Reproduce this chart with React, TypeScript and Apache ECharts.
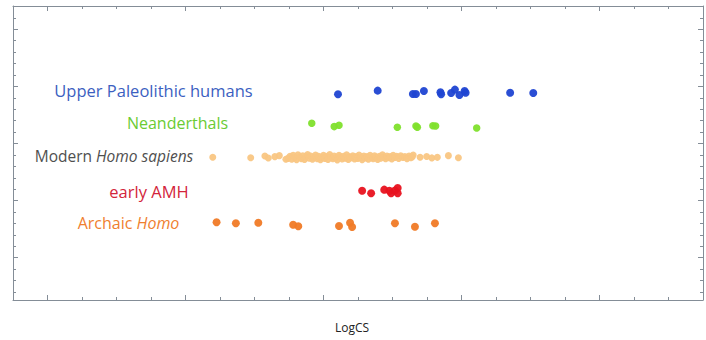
import React, { useEffect, useRef } from "react";
import * as echarts from "echarts";

// Category names (bottom to top)
const categories = [
  "Archaic Homo",
  "early AMH",
  "Modern Homo sapiens",
  "Neanderthals",
  "Upper Paleolithic humans",
];

// Axis ranges / ticks (arbitrary LogCS units, no tick labels in the source)
const xMin = 0;
const xMax = 20;
const xMajorTicks = [1, 5, 9, 13, 17];
const yMin = 0;
const yMax = 25.74;
const yMinorTicks = [
  0.7, 1.7, 2.7, 3.7, 4.7, 5.7, 6.7, 7.7, 8.7, 9.7, 10.7, 11.7, 12.7, 13.7,
  14.7, 15.7, 16.7, 17.7, 18.7, 19.7, 20.7, 21.7, 22.7, 23.7, 24.7,
];
const yMajorTicks = [3.7, 8.7, 13.7, 18.7, 23.7];

// Series values [LogCS, jittered row]
const upperPaleolithic = [
  [9.42, 18.01], [10.57, 18.33], [11.59, 18.04], [11.68, 18.04], [11.91, 18.3],
  [12.39, 18.19], [12.41, 18.01], [12.7, 18.13], [12.81, 18.42], [12.94, 17.95],
  [13.09, 18.3], [13.12, 18.15], [14.41, 18.15], [15.08, 18.13],
];

const neanderthals = [
  [8.66, 15.47], [9.31, 15.18], [9.45, 15.3], [11.14, 15.12], [11.68, 15.24],
  [11.72, 15.12], [12.17, 15.26], [12.25, 15.24], [13.44, 15.06],
];

const modernHomoSapiens = [
  [5.79, 12.5], [6.89, 12.46], [7.3, 12.61], [7.4, 12.43], [7.59, 12.55], [7.72, 12.64], [7.91, 12.32],
  [7.97, 12.4], [8.03, 12.58], [8.08, 12.33], [8.12, 12.66], [8.17, 12.47], [8.22, 12.29], [8.26, 12.71],
  [8.31, 12.52], [8.36, 12.38], [8.4, 12.62], [8.45, 12.3], [8.5, 12.55], [8.54, 12.74], [8.59, 12.42],
  [8.63, 12.6], [8.68, 12.33], [8.73, 12.5], [8.77, 12.69], [8.82, 12.37], [8.86, 12.58], [8.91, 12.28],
  [8.95, 12.47], [9.0, 12.66], [9.04, 12.4], [9.09, 12.56], [9.13, 12.31], [9.18, 12.73], [9.22, 12.49],
  [9.27, 12.36], [9.31, 12.61], [9.36, 12.44], [9.4, 12.27], [9.45, 12.68], [9.49, 12.52], [9.54, 12.35],
  [9.58, 12.59], [9.63, 12.42], [9.67, 12.71], [9.72, 12.3], [9.76, 12.54], [9.81, 12.45], [9.85, 12.63],
  [9.9, 12.34], [9.94, 12.57], [9.99, 12.39], [10.03, 12.7], [10.08, 12.48], [10.12, 12.29], [10.17, 12.6],
  [10.21, 12.43], [10.26, 12.55], [10.3, 12.33], [10.35, 12.67], [10.39, 12.46], [10.44, 12.38], [10.48, 12.62],
  [10.53, 12.5], [10.57, 12.31], [10.62, 12.58], [10.66, 12.41], [10.71, 12.72], [10.75, 12.52], [10.8, 12.36],
  [10.84, 12.6], [10.89, 12.45], [10.93, 12.55], [10.98, 12.34], [11.02, 12.66], [11.07, 12.48], [11.12, 12.58],
  [11.18, 12.4], [11.24, 12.62], [11.3, 12.47], [11.36, 12.55], [11.42, 12.38], [11.48, 12.6], [11.53, 12.45],
  [11.57, 12.53], [11.6, 12.7], [11.8, 12.5], [11.99, 12.56], [12.14, 12.44], [12.3, 12.49],
  [12.62, 12.64], [12.91, 12.46],
];

const earlyAMH = [
  [10.12, 9.57], [10.38, 9.34], [10.76, 9.66], [10.91, 9.57], [10.96, 9.34],
  [11.07, 9.59], [11.15, 9.81], [11.15, 9.34],
];

const archaicHomo = [
  [5.9, 6.8], [6.46, 6.72], [7.11, 6.77], [8.12, 6.59], [8.27, 6.45], [9.45, 6.48],
  [9.77, 6.77], [9.83, 6.39], [11.07, 6.72], [11.65, 6.42], [12.23, 6.72],
];

const seriesData = [archaicHomo, earlyAMH, modernHomoSapiens, neanderthals, upperPaleolithic];
const dotColors = ["#f07a26", "#e8121f", "#f9c683", "#80e02c", "#1f44d2"];
const dotSizes = [8, 8, 7, 7.5, 8];
const labelColors = ["#ef7f30", "#d3253b", "#4f4f4f", "#6bcb33", "#3c5fc1"];
const labelSizes = [16, 16.5, 15.5, 16, 16.5];
const labelPos = [
  [128.5, 223],
  [149, 191],
  [114, 156],
  [177.5, 123],
  [153.5, 90],
];

const axisColor = "#848d97";
const font = "'Open Sans', 'DejaVu Sans', sans-serif";

function labelRich(name: string) {
  if (name === "Modern Homo sapiens") return "{n|Modern }{i|Homo sapiens}";
  if (name === "Archaic Homo") return "{n|Archaic }{i|Homo}";
  return "{n|" + name + "}";
}

function makeOption() {
  const baseX = {
    type: "value",
    min: xMin,
    max: xMax,
    axisLabel: { show: false },
    splitLine: { show: false },
  };
  const baseY = {
    type: "value",
    min: yMin,
    max: yMax,
    axisLabel: { show: false },
    splitLine: { show: false },
  };
  const line = { show: true, onZero: false, lineStyle: { color: axisColor, width: 1 } };
  const noLine = { show: false, onZero: false };
  const tick = (length: number, extra: any) => ({
    show: true,
    inside: true,
    length,
    lineStyle: { color: axisColor, width: 1 },
    ...extra,
  });

  return {
    animation: false,
    backgroundColor: "#ffffff",
    grid: { left: 13, right: 3, top: 6, bottom: 40, containLabel: false },
    xAxis: [
      { ...baseX, position: "bottom", interval: 1, axisLine: line, axisTick: tick(3, { interval: 0 }) },
      { ...baseX, position: "bottom", axisLine: noLine, axisTick: tick(5, { customValues: xMajorTicks }) },
      { ...baseX, position: "top", interval: 1, axisLine: line, axisTick: tick(3, { interval: 0 }) },
      { ...baseX, position: "top", axisLine: noLine, axisTick: tick(5, { customValues: xMajorTicks }) },
    ],
    yAxis: [
      { ...baseY, position: "left", axisLine: line, axisTick: tick(3, { customValues: yMinorTicks }) },
      { ...baseY, position: "left", axisLine: noLine, axisTick: tick(5, { customValues: yMajorTicks }) },
      { ...baseY, position: "right", axisLine: line, axisTick: tick(3, { customValues: yMinorTicks }) },
      { ...baseY, position: "right", axisLine: noLine, axisTick: tick(5, { customValues: yMajorTicks }) },
    ],
    series: seriesData.map((d, i) => ({
      name: categories[i],
      type: "scatter",
      xAxisIndex: 0,
      yAxisIndex: 0,
      data: d,
      symbol: "circle",
      symbolSize: dotSizes[i],
      itemStyle: { color: dotColors[i], opacity: 0.95 },
      z: 2 + (i === 2 ? 0 : 1),
    })),
    graphic: [
      ...categories.map((name, i) => ({
        type: "text",
        x: labelPos[i][0],
        y: labelPos[i][1],
        silent: true,
        style: {
          text: labelRich(name),
          align: "center",
          verticalAlign: "middle",
          rich: {
            n: { fontFamily: font, fontSize: labelSizes[i], fill: labelColors[i], color: labelColors[i] },
            i: {
              fontFamily: font,
              fontSize: labelSizes[i],
              fontStyle: "italic",
              fill: labelColors[i],
              color: labelColors[i],
            },
          },
        },
      })),
      {
        type: "text",
        x: 352,
        y: 327,
        silent: true,
        style: {
          text: "LogCS",
          align: "center",
          verticalAlign: "middle",
          fontFamily: font,
          fontSize: 12,
          fill: "#222222",
        },
      },
    ],
  };
}

export default function App() {
  const ref = useRef<HTMLDivElement>(null);
  useEffect(() => {
    if (!ref.current) return;
    const chart = echarts.init(ref.current, null, { renderer: "svg" });
    chart.setOption(makeOption() as any);
    return () => chart.dispose();
  }, []);
  return (
    <div
      ref={ref}
      style={{ position: "fixed", left: 0, top: 0, width: 706, height: 340, background: "#ffffff" }}
    />
  );
}
